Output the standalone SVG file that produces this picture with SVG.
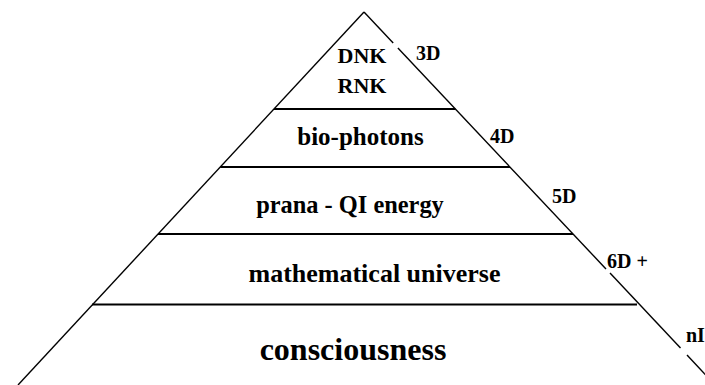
<svg xmlns="http://www.w3.org/2000/svg" width="705" height="385" viewBox="0 0 705 385">
<style>
.edge{stroke:#000;stroke-width:1.4;fill:none}
.tier{stroke:#000;stroke-width:2;fill:none}
.t{font-family:"Liberation Serif","Times New Roman",serif;font-weight:bold;fill:#000}
.lbl{font-size:24px;text-anchor:middle}
.dim{font-size:20px}
</style>
<rect width="705" height="385" fill="#fff"/>
<g id="connectors">
<line class="edge" x1="364" y1="12" x2="18" y2="385"/>
<line class="edge" x1="364" y1="12" x2="393.2" y2="43"/>
<line class="edge" x1="397.9" y1="48" x2="606" y2="269"/>
<line class="edge" x1="610" y1="273" x2="680.5" y2="348"/>
<line class="edge" x1="687" y1="355" x2="715" y2="385"/>
<line class="tier" x1="274" y1="109" x2="455.4" y2="109"/>
<line class="tier" x1="220.2" y1="167" x2="510" y2="167"/>
<line class="tier" x1="158" y1="234" x2="573" y2="234"/>
<line class="tier" x1="92" y1="304.5" x2="637" y2="304.5"/>
</g>
<g id="tier-dnk">
<text class="t" x="362" y="63" font-size="22" text-anchor="middle">DNK</text>
<text class="t" x="362" y="93" font-size="22" text-anchor="middle">RNK</text>
</g>
<g id="tier-biophotons"><text class="t lbl" x="360.5" y="145" font-size="25" style="font-size:25px">bio-photons</text></g>
<g id="tier-prana"><text class="t lbl" x="350" y="213" style="font-size:24.4px">prana - QI energy</text></g>
<g id="tier-math"><text class="t lbl" x="374.5" y="282" style="font-size:26px">mathematical universe</text></g>
<g id="tier-consciousness"><text class="t lbl" x="353" y="360" style="font-size:32px">consciousness</text></g>
<g id="dim-labels">
<text class="t dim" x="416" y="60">3D</text>
<text class="t dim" x="490" y="143">4D</text>
<text class="t dim" x="552" y="203">5D</text>
<text class="t dim" x="607" y="268">6D +</text>
<text class="t dim" x="686" y="342">nI</text>
</g>
</svg>
